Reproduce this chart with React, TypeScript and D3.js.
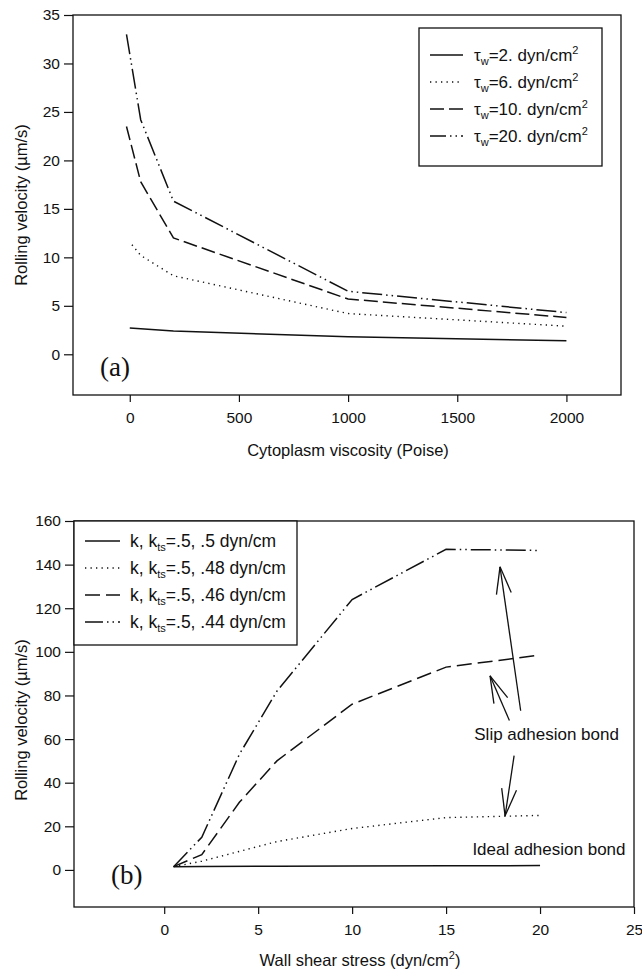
import React, { useRef, useEffect } from "react";
import * as d3 from "d3";

// panel (a): rolling velocity vs cytoplasm viscosity
const viscTau2 = [0, 200, 1000, 2000];
const velTau2 = [2.7, 2.4, 1.8, 1.4];
const viscTau6 = [10, 50, 200, 1000, 2000];
const velTau6 = [11.3, 10.2, 8.1, 4.2, 2.9];
const viscTau10 = [-15, 50, 200, 1000, 2000];
const velTau10 = [23.5, 17.8, 12.0, 5.7, 3.8];
const viscTau20 = [-15, 50, 200, 1000, 2000];
const velTau20 = [33, 24.2, 15.8, 6.5, 4.3];
const tauLabels = ["2.", "6.", "10.", "20."];
const viscTicks = [0, 500, 1000, 1500, 2000];
const velTicksA = [0, 5, 10, 15, 20, 25, 30, 35];

// panel (b): rolling velocity vs wall shear stress
const shear50 = [0.5, 2, 6, 10, 15, 20];
const vel50 = [1.5, 1.6, 1.7, 1.8, 1.9, 2.0];
const shear48 = [0.5, 2, 6, 10, 15, 20];
const vel48 = [1.5, 4, 13, 19, 24, 25];
const shear46 = [0.5, 2, 4, 6, 10, 15, 20];
const vel46 = [1.5, 7, 31, 50, 76, 93, 98.5];
const shear44 = [0.5, 2, 4, 6, 10, 15, 20];
const vel44 = [1.5, 15, 53, 82, 124, 147, 146.5];
const ktsLabels = [".5", ".48", ".46", ".44"];
const shearTicks = [0, 5, 10, 15, 20, 25];
const velTicksB = [0, 20, 40, 60, 80, 100, 120, 140, 160];

// arrows in panel (b), data coords [x1, y1, x2, y2] (tail -> tip)
const arrowsB = [
  [18.97, 73, 17.87, 139],
  [18.37, 68.5, 17.34, 89],
  [18.62, 52.4, 18.14, 24.8],
];
const notesB = [
  { x: 16.5, y: 62.5, text: "Slip adhesion bond" },
  { x: 16.4, y: 9.7, text: "Ideal adhesion bond" },
];

const dashes = ["none", "1.3 4.2", "14 5", "20 4 1.5 4 1.5 4"];
const dashesB = ["none", "1.3 4.2", "15 6", "20 4 1.5 4 1.5 4"];

const SANS = "'Liberation Sans', Arial, Helvetica, sans-serif";
const SERIF = "'Liberation Serif', 'Times New Roman', serif";
const INK = "#111";

function drawAxes(g, x, y, xTicks, yTicks, frame) {
  const [l, t, r, b] = frame;
  g.append("rect")
    .attr("x", l).attr("y", t)
    .attr("width", r - l).attr("height", b - t)
    .attr("fill", "none").attr("stroke", INK).attr("stroke-width", 1.3);

  const fmt = d3.format("d");
  const yAxis = g.append("g")
    .attr("transform", `translate(${l},0)`)
    .call(d3.axisLeft(y).tickValues(yTicks).tickFormat(fmt).tickSize(9).tickSizeOuter(0).tickPadding(4));
  const xAxis = g.append("g")
    .attr("transform", `translate(0,${b})`)
    .call(d3.axisBottom(x).tickValues(xTicks).tickFormat(fmt).tickSize(7).tickSizeOuter(0).tickPadding(10));
  [yAxis, xAxis].forEach((a) => {
    a.select(".domain").remove();
    a.selectAll("line").attr("stroke", INK).attr("stroke-width", 1.2);
    a.selectAll("text")
      .attr("fill", INK)
      .attr("font-family", SANS)
      .attr("font-size", 15.5);
  });
}

function drawSeries(g, x, y, xs, ys, dash) {
  const pts = xs.map((v, i) => [v, ys[i]]);
  const line = d3.line().x((d) => x(d[0])).y((d) => y(d[1]));
  g.append("path")
    .attr("d", line(pts))
    .attr("fill", "none")
    .attr("stroke", INK)
    .attr("stroke-width", dash === "1.3 4.2" ? 1.4 : 1.5)
    .attr("stroke-dasharray", dash);
}

const App = () => {
  const svgRef = useRef(null);

  useEffect(() => {
    document.body.style.margin = "0";
    const svg = d3.select(svgRef.current);
    svg.selectAll("*").remove();

    // ---------- panel (a) ----------
    const frameA = [73, 15, 621, 395];
    const xA = d3.scaleLinear().domain([-260, 2250]).range([frameA[0], frameA[2]]);
    const yA = d3.scaleLinear().domain([-4.2, 35]).range([frameA[3], frameA[1]]);
    const gA = svg.append("g");
    drawAxes(gA, xA, yA, viscTicks, velTicksA, frameA);

    const seriesA = [
      [viscTau2, velTau2],
      [viscTau6, velTau6],
      [viscTau10, velTau10],
      [viscTau20, velTau20],
    ];
    seriesA.forEach((s, i) => drawSeries(gA, xA, yA, s[0], s[1], dashes[i]));

    // legend (a)
    const legA = gA.append("g");
    legA.append("rect")
      .attr("x", 419).attr("y", 28).attr("width", 183).attr("height", 138)
      .attr("fill", "white").attr("stroke", INK).attr("stroke-width", 1.3);
    tauLabels.forEach((lab, i) => {
      const cy = 55 + i * 27;
      legA.append("line")
        .attr("x1", 430).attr("x2", 463).attr("y1", cy).attr("y2", cy)
        .attr("stroke", INK).attr("stroke-width", 1.5)
        .attr("stroke-dasharray", i === 3 ? "16 4 1.5 4 1.5 4" : dashes[i]);
      const t = legA.append("text")
        .attr("x", 474).attr("y", cy + 6)
        .attr("font-family", SANS).attr("font-size", 17).attr("fill", INK);
      t.append("tspan").text("τ");
      t.append("tspan").attr("font-size", 11).attr("dy", 4).text("w");
      t.append("tspan").attr("dy", -4).text(`=${lab} dyn/cm`);
      t.append("tspan").attr("font-size", 11).attr("dy", -7).text("2");
    });

    gA.append("text")
      .attr("x", 100).attr("y", 376)
      .attr("font-family", SERIF).attr("font-size", 27).attr("fill", INK)
      .text("(a)");

    gA.append("text")
      .attr("x", 348).attr("y", 456)
      .attr("text-anchor", "middle")
      .attr("font-family", SANS).attr("font-size", 16.5).attr("fill", INK)
      .text("Cytoplasm viscosity (Poise)");
    gA.append("text")
      .attr("transform", "translate(27,205) rotate(-90)")
      .attr("text-anchor", "middle")
      .attr("font-family", SANS).attr("font-size", 16.5).attr("fill", INK)
      .text("Rolling velocity (µm/s)");

    // ---------- panel (b) ----------
    const frameB = [74, 521, 634, 907];
    const xB = d3.scaleLinear().domain([-4.8, 25]).range([frameB[0], frameB[2]]);
    const yB = d3.scaleLinear().domain([-17, 160]).range([frameB[3], frameB[1]]);
    const gB = svg.append("g");
    drawAxes(gB, xB, yB, shearTicks, velTicksB, frameB);

    const seriesB = [
      [shear50, vel50],
      [shear48, vel48],
      [shear46, vel46],
      [shear44, vel44],
    ];
    seriesB.forEach((s, i) => drawSeries(gB, xB, yB, s[0], s[1], dashesB[i]));

    // legend (b)
    const legB = gB.append("g");
    legB.append("rect")
      .attr("x", frameB[0]).attr("y", frameB[1]).attr("width", 223).attr("height", 124)
      .attr("fill", "white").attr("stroke", INK).attr("stroke-width", 1.3);
    ktsLabels.forEach((lab, i) => {
      const cy = 541 + i * 27;
      legB.append("line")
        .attr("x1", 85).attr("x2", 120).attr("y1", cy).attr("y2", cy)
        .attr("stroke", INK).attr("stroke-width", 1.5)
        .attr("stroke-dasharray", i === 3 ? "18 4 1.5 4 1.5 4" : dashesB[i]);
      const t = legB.append("text")
        .attr("x", 130).attr("y", cy + 6)
        .attr("font-family", SANS).attr("font-size", 17.5).attr("fill", INK);
      t.append("tspan").text("k, k");
      t.append("tspan").attr("font-size", 11).attr("dy", 4).text("ts");
      t.append("tspan").attr("dy", -4).text(`=.5, ${lab} dyn/cm`);
    });

    // arrows + notes
    arrowsB.forEach(([x1, y1, x2, y2]) => {
      const px1 = xB(x1), py1 = yB(y1), px2 = xB(x2), py2 = yB(y2);
      gB.append("line")
        .attr("x1", px1).attr("y1", py1).attr("x2", px2).attr("y2", py2)
        .attr("stroke", INK).attr("stroke-width", 1.3);
      const ang = Math.atan2(py1 - py2, px1 - px2);
      const len = 28, spread = 0.27;
      [ang - spread, ang + spread].forEach((a) => {
        gB.append("line")
          .attr("x1", px2).attr("y1", py2)
          .attr("x2", px2 + len * Math.cos(a)).attr("y2", py2 + len * Math.sin(a))
          .attr("stroke", INK).attr("stroke-width", 1.3);
      });
    });
    notesB.forEach((n) => {
      gB.append("text")
        .attr("x", xB(n.x)).attr("y", yB(n.y) + 6)
        .attr("font-family", SANS).attr("font-size", 17).attr("fill", INK)
        .text(n.text);
    });

    gB.append("text")
      .attr("x", 111).attr("y", 884)
      .attr("font-family", SERIF).attr("font-size", 27).attr("fill", INK)
      .text("(b)");

    const xt = gB.append("text")
      .attr("x", 360).attr("y", 966)
      .attr("text-anchor", "middle")
      .attr("font-family", SANS).attr("font-size", 16.5).attr("fill", INK);
    xt.append("tspan").text("Wall shear stress (dyn/cm");
    xt.append("tspan").attr("font-size", 11).attr("dy", -7).text("2");
    xt.append("tspan").attr("dy", 7).text(")");
    gB.append("text")
      .attr("transform", "translate(27,720) rotate(-90)")
      .attr("text-anchor", "middle")
      .attr("font-family", SANS).attr("font-size", 16.5).attr("fill", INK)
      .text("Rolling velocity (µm/s)");
  }, []);

  return (
    <div>
      <svg ref={svgRef} width={642} height={971} style={{ display: "block" }} />
    </div>
  );
};

export default App;
